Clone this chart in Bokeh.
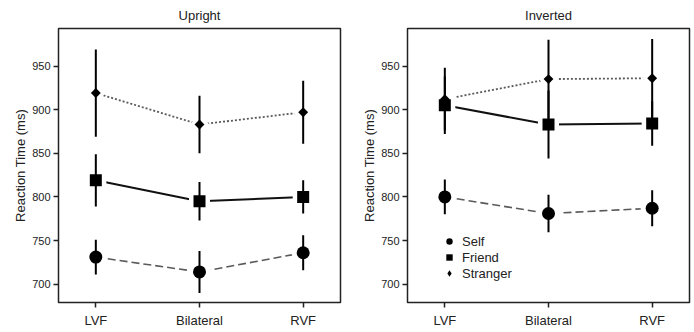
import math
from bokeh.plotting import figure
from bokeh.layouts import row
from bokeh.models import Range1d, FixedTicker, Legend, LegendItem, Spacer
from bokeh.embed import file_html
from bokeh.resources import INLINE

categories = ["LVF", "Bilateral", "RVF"]
y_ticks = [700, 750, 800, 850, 900, 950]
series_names = ["Self", "Friend", "Stranger"]

upright_self = [731, 714, 736]
upright_self_se = [20, 24, 20]
upright_friend = [819, 795, 800]
upright_friend_se = [30, 22, 19]
upright_stranger = [919, 883, 897]
upright_stranger_se = [50, 33, 36]

inverted_self = [800, 781, 787]
inverted_self_se = [20, 21.5, 20.5]
inverted_friend = [905, 883, 884]
inverted_friend_se = [33, 39, 25.5]
inverted_stranger = [912, 935, 936]
inverted_stranger_se = [36, 45, 45]

FONT = "Liberation Sans"
TXT = "#222222"

STYLES = {
    "Self": dict(line_color="#5a5a5a", line_width=1.6, line_dash="8 4", marker="circle", size=13, angle=0.0, halo=10, legend_marker="circle"),
    "Friend": dict(line_color="#111111", line_width=2, line_dash="solid", marker="square", size=12, angle=0.0, halo=9, legend_marker="square"),
    "Stranger": dict(line_color="#5a5a5a", line_width=1.8, line_dash="2 2", marker="square", size=7, angle=math.pi / 4, halo=7, legend_marker="diamond"),
}


def make_panel(title, data, width, bl, br, legend=False):
    p = figure(width=width, height=330, title=title, output_backend="svg", toolbar_location=None,
               x_range=Range1d(-0.36, 2.36), y_range=Range1d(679, 993),
               min_border_left=bl, min_border_right=br, min_border_top=27, min_border_bottom=28)
    p.background_fill_color = "white"
    p.border_fill_color = "white"
    p.outline_line_color = TXT
    p.outline_line_width = 1.5
    p.grid.visible = False

    p.title.align = "center"
    p.title.text_font = FONT
    p.title.text_font_size = "13px"
    p.title.text_font_style = "normal"
    p.title.text_color = TXT
    p.title.standoff = 11

    xs = list(range(len(categories)))
    p.xaxis.ticker = FixedTicker(ticks=xs)
    p.xaxis.major_label_overrides = {i: c for i, c in enumerate(categories)}
    p.yaxis.ticker = FixedTicker(ticks=y_ticks)
    p.yaxis.axis_label = "Reaction Time (ms)"
    for ax in (p.xaxis[0], p.yaxis[0]):
        ax.axis_line_color = None
        ax.major_tick_line_color = TXT
        ax.major_tick_line_width = 1.5
        ax.major_tick_out = 5
        ax.major_tick_in = 0
        ax.minor_tick_line_color = None
        ax.major_label_text_font = FONT
        ax.major_label_text_color = TXT
    p.xaxis.major_label_text_font_size = "13px"
    p.xaxis.major_label_standoff = 5
    p.yaxis.major_label_text_font_size = "11px"
    p.yaxis.major_label_standoff = 3
    p.yaxis.axis_label_text_font = FONT
    p.yaxis.axis_label_text_font_size = "13px"
    p.yaxis.axis_label_text_font_style = "normal"
    p.yaxis.axis_label_text_color = TXT
    p.yaxis.axis_label_standoff = 1

    # lines
    for name in series_names:
        means, se = data[name]
        st = STYLES[name]
        p.line(xs, means, line_color=st["line_color"], line_width=st["line_width"], line_dash=st["line_dash"])
    # white halos
    for name in series_names:
        means, se = data[name]
        st = STYLES[name]
        p.scatter(xs, means, marker=st["marker"], size=st["size"] + st["halo"], angle=st["angle"],
                  fill_color="white", line_color=None)
    # error bars
    for name in series_names:
        means, se = data[name]
        lo = [m - e for m, e in zip(means, se)]
        hi = [m + e for m, e in zip(means, se)]
        p.segment(x0=xs, y0=lo, x1=xs, y1=hi, line_color="black", line_width=2)
    # markers
    for name in series_names:
        means, se = data[name]
        st = STYLES[name]
        p.scatter(xs, means, marker=st["marker"], size=st["size"], angle=st["angle"],
                  fill_color="black", line_color=None)

    if legend:
        items = []
        for name in series_names:
            means, se = data[name]
            st = STYLES[name]
            # zero-size twin renderer, only used for the legend glyph
            r = p.scatter(xs, means, marker=st["legend_marker"], size=0,
                          fill_color="black", line_color=None)
            items.append(LegendItem(label=name, renderers=[r]))
        lg = Legend(items=items, location=(34, 21), padding=0, margin=0, spacing=0,
                    glyph_width=16, glyph_height=16, label_height=16, label_standoff=5,
                    border_line_color=None, background_fill_alpha=0,
                    label_text_font=FONT, label_text_font_size="13px", label_text_color=TXT)
        p.add_layout(lg, "center")
    return p


up = make_panel("Upright", {
    "Self": (upright_self, upright_self_se),
    "Friend": (upright_friend, upright_friend_se),
    "Stranger": (upright_stranger, upright_stranger_se),
}, width=348, bl=52, br=14)

inv = make_panel("Inverted", {
    "Self": (inverted_self, inverted_self_se),
    "Friend": (inverted_friend, inverted_friend_se),
    "Stranger": (inverted_stranger, inverted_stranger_se),
}, width=339, bl=53, br=4, legend=True)

layout = row(Spacer(width=6, height=330), up, inv)
open("out.html", "w").write(file_html(layout, INLINE))
